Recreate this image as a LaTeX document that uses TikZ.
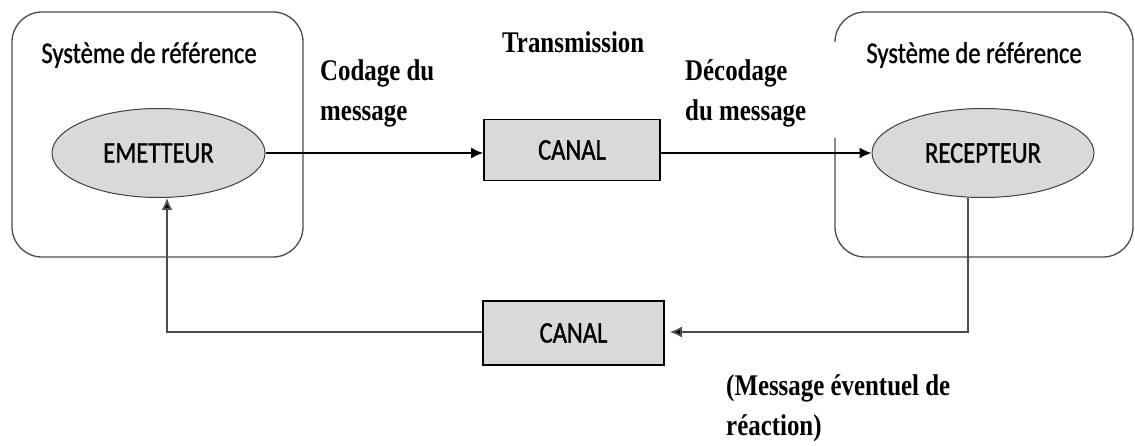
\documentclass[tikz,border=0pt]{standalone}
\usepackage{fontspec}
\newfontfamily\calib[FakeStretch=0.82,FakeBold=1.0]{Carlito}
\newfontfamily\tnr[FakeStretch=0.83]{Liberation Serif}
\usetikzlibrary{arrows.meta,shapes.geometric,calc}
\begin{document}
\begin{tikzpicture}[x=1pt,y=-1pt,
  sysbox/.style={draw=black!70, line width=1.3pt, rounded corners=30pt},
  actor/.style={ellipse, draw=black!75, line width=1pt, fill=gray!30, minimum width=#1, minimum height=89pt, inner sep=0pt, font=\calib\fontsize{30}{36}\selectfont},
  canal/.style={rectangle, draw=black, line width=1.6pt, fill=gray!30, inner sep=0pt, font=\calib\fontsize{30}{36}\selectfont},
  lbl/.style={font=\tnr\bfseries\fontsize{30}{40}\selectfont, align=left, inner sep=0pt, anchor=base west},
  sys/.style={font=\calib\fontsize{30}{36}\selectfont, inner sep=0pt, anchor=base},
  flow/.style={line width=1.6pt, draw=black, -{Latex[length=12pt,width=11pt]}},
  back/.style={line width=1.8pt, draw=black!70, -{Latex[length=12pt,width=11pt,fill=black]}}
]
\fill[white] (0,0) rectangle (1135,446);
\useasboundingbox (0,0) rectangle (1135,446);
% reference systems
\draw[sysbox] (12,12) rectangle (303,257);
\draw[sysbox] (835,138) -- (835,257) -- (1133,257) -- (1133,12) -- (835,12) -- (835,42);
\node[sys] (s1) at (149,63) {Système de référence};
\node[sys] (s2) at (974,63) {Système de référence};
% actors and channels
\node[actor=213pt] (em) at (158.5,153) {EMETTEUR};
\node[actor=222pt] (rec) at (983,153) {RECEPTEUR};
\node[canal, minimum width=176pt, minimum height=61pt] (c1) at (572,150) {CANAL};
\node[canal, minimum width=181pt, minimum height=64pt] (c2) at (573.5,333) {CANAL};
% labels (base anchor = baseline of last line)
\node[lbl] (trans) at (502,53) {Transmission};
\node[lbl] (cod) at (320,121) {Codage du\\message};
\node[lbl] (dec) at (685,121) {Décodage\\du message};
\node[lbl] (reac) at (726,435) {(Message éventuel de\\réaction)};
% connectors
\coordinate (rdown) at (968,332);
\coordinate (ldown) at (167,332);
\draw[flow] (em.east) -- (em.east -| c1.west);
\draw[flow] (c1.east |- rec.west) -- (rec.west);
\draw[back, shorten >=5pt] (rec.south -| rdown) -- (rdown) -- (rdown -| c2.east);
\draw[back] (c2.west |- ldown) -- (ldown) -- (ldown |- em.south);
\end{tikzpicture}
\end{document}
